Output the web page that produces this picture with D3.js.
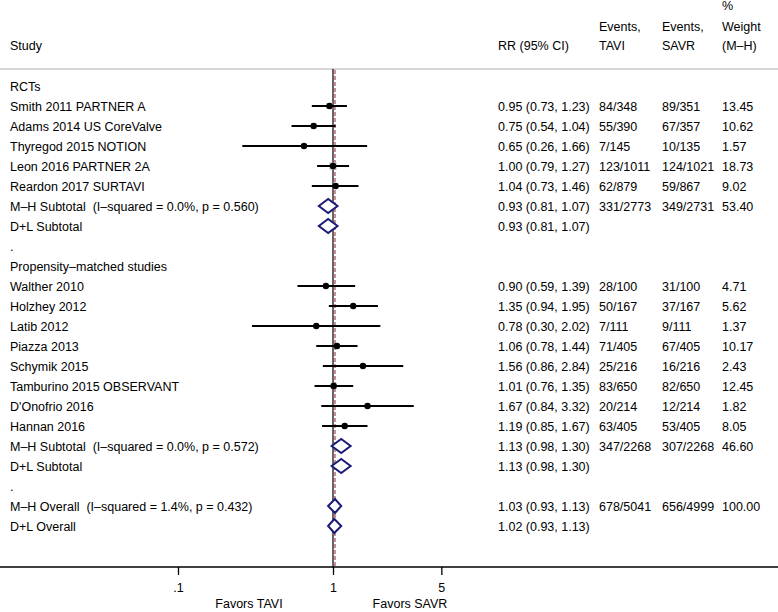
<!DOCTYPE html>
<html>
<head>
<meta charset="utf-8">
<script src="https://cdn.jsdelivr.net/npm/d3@7"></script>
<style>
  html, body { margin: 0; padding: 0; background: #fff; }
  svg { display: block; }
  text { font-family: "Liberation Sans", Arial, Helvetica, sans-serif; font-size: 12.5px; fill: #000; white-space: pre; }
</style>
</head>
<body>
<script>
// ---------- data ----------
const labels = [
  "RCTs",
  "Smith 2011 PARTNER A",
  "Adams 2014 US CoreValve",
  "Thyregod 2015 NOTION",
  "Leon 2016 PARTNER 2A",
  "Reardon 2017 SURTAVI",
  "M–H Subtotal  (I–squared = 0.0%, p = 0.560)",
  "D+L Subtotal",
  ".",
  "Propensity–matched studies",
  "Walther 2010",
  "Holzhey 2012",
  "Latib 2012",
  "Piazza 2013",
  "Schymik 2015",
  "Tamburino 2015 OBSERVANT",
  "D'Onofrio 2016",
  "Hannan 2016",
  "M–H Subtotal  (I–squared = 0.0%, p = 0.572)",
  "D+L Subtotal",
  ".",
  "M–H Overall  (I–squared = 1.4%, p = 0.432)",
  "D+L Overall"
];
const rowKind = [
  "head","study","study","study","study","study","pooled","pooled","blank",
  "head","study","study","study","study","study","study","study","study","pooled","pooled","blank",
  "pooled","pooled"
];
const rr   = [null,0.95,0.75,0.65,1.00,1.04,0.93,0.93,null,null,0.90,1.35,0.78,1.06,1.56,1.01,1.67,1.19,1.13,1.13,null,1.03,1.02];
const lo   = [null,0.73,0.54,0.26,0.79,0.73,0.81,0.81,null,null,0.59,0.94,0.30,0.78,0.86,0.76,0.84,0.85,0.98,0.98,null,0.93,0.93];
const hi   = [null,1.23,1.04,1.66,1.27,1.46,1.07,1.07,null,null,1.39,1.95,2.02,1.44,2.84,1.35,3.32,1.67,1.30,1.30,null,1.13,1.13];
const tavi = ["","84/348","55/390","7/145","123/1011","62/879","331/2773","","","","28/100","50/167","7/111","71/405","25/216","83/650","20/214","63/405","347/2268","","","678/5041",""];
const savr = ["","89/351","67/357","10/135","124/1021","59/867","349/2731","","","","31/100","37/167","9/111","67/405","16/216","82/650","12/214","53/405","307/2268","","","656/4999",""];
const weight = [null,13.45,10.62,1.57,18.73,9.02,53.40,null,null,null,4.71,5.62,1.37,10.17,2.43,12.45,1.82,8.05,46.60,null,null,100.00,null];
const overallRR = 1.03;
const tickValues = [0.1, 1, 5];
const tickLabels = [".1", "1", "5"];

// ---------- layout ----------
const W = 778, H = 612;
const svg = d3.select("body").append("svg").attr("width", W).attr("height", H);

const x = d3.scaleLog().domain([0.1, 10]).range([178, 488]);
const y = d3.scaleLinear().domain([0, 1]).range([86, 106]);   // row index -> centre y
const axisY = 567, topY = 69;
const colStudy = 10, colRR = 498, colTavi = 599, colSavr = 662, colW = 722;

// header
const hdr = svg.append("g");
[["Study", colStudy, 50], ["RR (95% CI)", colRR, 50],
 ["Events,", colTavi, 31], ["TAVI", colTavi, 50],
 ["Events,", colSavr, 31], ["SAVR", colSavr, 50],
 ["%", colW, 10], ["Weight", colW, 31], ["(M–H)", colW, 50]
].forEach(([t, tx, ty]) => hdr.append("text").attr("x", tx).attr("y", ty).text(t));

svg.append("line").attr("x1", 0).attr("x2", W).attr("y1", topY).attr("y2", topY)
  .attr("stroke", "#c8c8c8").attr("stroke-width", 1.5);

// reference lines
svg.append("line").attr("x1", x(1)).attr("x2", x(1)).attr("y1", topY).attr("y2", axisY)
  .attr("stroke", "#000").attr("stroke-width", 1.2);
svg.append("line").attr("x1", x(overallRR)).attr("x2", x(overallRR)).attr("y1", topY + 1).attr("y2", axisY)
  .attr("stroke", "#a8434f").attr("stroke-width", 1.2).attr("stroke-dasharray", "4,2");

// rows
const rows = labels.map((l, i) => ({ i, label: l, kind: rowKind[i], rr: rr[i], lo: lo[i], hi: hi[i],
  tavi: tavi[i], savr: savr[i], w: weight[i] }));

const rg = svg.append("g").selectAll("g").data(rows).join("g")
  .attr("transform", d => `translate(0,${y(d.i)})`);

rg.append("text").attr("x", colStudy).attr("y", 4.5).text(d => d.label);
rg.filter(d => d.rr != null).append("text").attr("x", colRR).attr("y", 4.5)
  .text(d => `${d.rr.toFixed(2)} (${d.lo.toFixed(2)}, ${d.hi.toFixed(2)})`);
rg.append("text").attr("x", colTavi).attr("y", 4.5).text(d => d.tavi);
rg.append("text").attr("x", colSavr).attr("y", 4.5).text(d => d.savr);
rg.filter(d => d.w != null).append("text").attr("x", colW).attr("y", 4.5).text(d => d.w.toFixed(2));

// study markers
const st = rg.filter(d => d.kind === "study");
const boxSize = w => 1.65 * Math.sqrt(w);
st.append("rect")
  .attr("x", d => x(d.rr) - boxSize(d.w) / 2).attr("y", d => -boxSize(d.w) / 2)
  .attr("width", d => boxSize(d.w)).attr("height", d => boxSize(d.w))
  .attr("fill", "#b8b8b8");
st.append("line").attr("x1", d => x(d.lo)).attr("x2", d => x(d.hi)).attr("y1", 0).attr("y2", 0)
  .attr("stroke", "#000").attr("stroke-width", 2);
st.append("circle").attr("cx", d => x(d.rr)).attr("cy", 0).attr("r", 3.2).attr("fill", "#000");

// pooled diamonds
rg.filter(d => d.kind === "pooled").append("path")
  .attr("d", d => `M${x(d.lo)},0 L${x(d.rr)},-7 L${x(d.hi)},0 L${x(d.rr)},7 Z`)
  .attr("fill", "#fff").attr("stroke", "#1a1a78").attr("stroke-width", 2);

// axis
svg.append("line").attr("x1", 0).attr("x2", W).attr("y1", axisY).attr("y2", axisY)
  .attr("stroke", "#000").attr("stroke-width", 1.3);
const ax = svg.append("g").attr("transform", `translate(0,${axisY})`)
  .call(d3.axisBottom(x).tickValues(tickValues).tickSize(8).tickPadding(8)
    .tickFormat((d, i) => tickLabels[i]));
ax.select(".domain").remove();
ax.selectAll(".tick line").attr("stroke", "#000").attr("stroke-width", 1.3);
ax.selectAll(".tick text").attr("font-size", "12.5px").attr("font-family", null).attr("fill", "#000");

svg.append("text").attr("x", 249).attr("y", 608).attr("text-anchor", "middle").text("Favors TAVI");
svg.append("text").attr("x", 410).attr("y", 608).attr("text-anchor", "middle").text("Favors SAVR");
</script>
</body>
</html>
